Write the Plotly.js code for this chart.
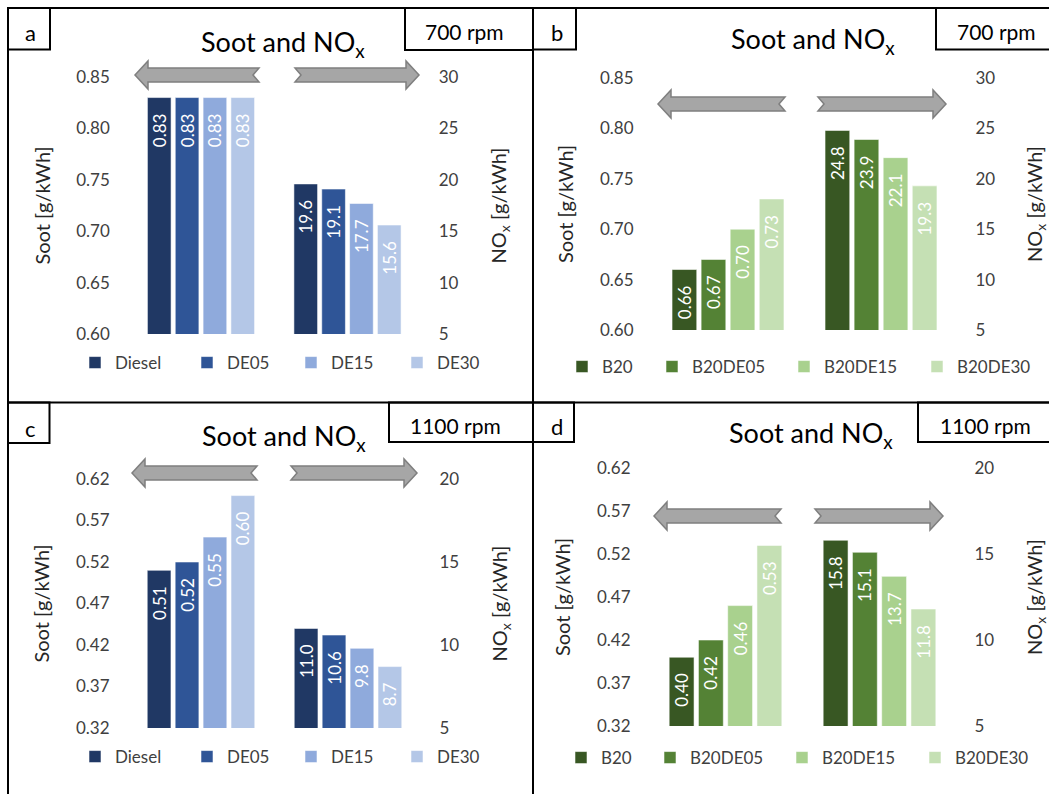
<!DOCTYPE html>
<html><head><meta charset="utf-8">
<script src="https://cdn.plot.ly/plotly-3.0.1.min.js"></script>
<style>html,body{margin:0;padding:0;background:#fff}#chart{width:1049px;height:794px}</style>
</head><body><div id="chart"></div>
<script>
// ---------------- data ----------------
const groups = ['Soot', 'NOx'];
const dieselSeries = ['Diesel', 'DE05', 'DE15', 'DE30'];
const biodieselSeries = ['B20', 'B20DE05', 'B20DE15', 'B20DE30'];
const blueColors = ['#203864', '#2f5597', '#8faadc', '#b4c7e7'];
const greenColors = ['#385723', '#548235', '#a9d18e', '#c5e0b4'];

// a: 700 rpm, diesel blends
const sootA = [0.83, 0.83, 0.83, 0.83];
const noxA = [19.6, 19.1, 17.7, 15.6];
// b: 700 rpm, B20 blends
const sootB = [0.66, 0.67, 0.70, 0.73];
const noxB = [24.8, 23.9, 22.1, 19.3];
// c: 1100 rpm, diesel blends
const sootC = [0.51, 0.52, 0.55, 0.60];
const noxC = [11.0, 10.6, 9.8, 8.7];
// d: 1100 rpm, B20 blends
const sootD = [0.40, 0.42, 0.46, 0.53];
const noxD = [15.8, 15.1, 13.7, 11.8];

const sootTicks700 = [0.60, 0.65, 0.70, 0.75, 0.80, 0.85];
const noxTicks700 = [5, 10, 15, 20, 25, 30];
const sootTicks1100 = [0.32, 0.37, 0.42, 0.47, 0.52, 0.57, 0.62];
const noxTicks1100 = [5, 10, 15, 20];

const panelLetters = ['a', 'b', 'c', 'd'];
const speedLabels = ['700 rpm', '700 rpm', '1100 rpm', '1100 rpm'];
const panelTitle = 'Soot and NO<sub>x</sub>';
const sootTitle = 'Soot [g/kWh]';
const noxTitle = 'NO<sub>x</sub> [g/kWh]';

// ---------------- layout helpers ----------------
const W = 1049, H = 794;
const px = v => v / W;
const py = v => 1 - v / H;
const FONT = 'Lato, "Open Sans", sans-serif';
const PAD = '\u00a0\u00a0\u00a0';

const panels = [
  {soot: sootA, nox: noxA, names: dieselSeries, colors: blueColors, sTicks: sootTicks700, nTicks: noxTicks700,
   x: [127.75, 420.75], y: [77, 334], xa: 'x', ys: 'y', yn: 'y2', legX: [96, 208, 312, 418], legY: 363},
  {soot: sootB, nox: noxB, names: biodieselSeries, colors: greenColors, sTicks: sootTicks700, nTicks: noxTicks700,
   x: [651.5, 957.5], y: [78, 330], xa: 'x2', ys: 'y3', yn: 'y4', legX: [583, 673, 805, 938], legY: 367},
  {soot: sootC, nox: noxC, names: dieselSeries, colors: blueColors, sTicks: sootTicks1100, nTicks: noxTicks1100,
   x: [127.5, 421.5], y: [479, 728], xa: 'x3', ys: 'y5', yn: 'y6', legX: [96, 208, 312, 418], legY: 757},
  {soot: sootD, nox: noxD, names: biodieselSeries, colors: greenColors, sTicks: sootTicks1100, nTicks: noxTicks1100,
   x: [648.5, 956.5], y: [468, 726], xa: 'x4', ys: 'y7', yn: 'y8', legX: [582, 671, 803, 936], legY: 758}
];

const traces = [];
const layout = {
  width: W, height: H,
  margin: {l: 0, r: 0, t: 0, b: 0},
  paper_bgcolor: '#ffffff', plot_bgcolor: 'rgba(0,0,0,0)',
  barmode: 'group', bargap: 0.24, bargroupgap: 0.15,
  font: {family: FONT, size: 17, color: '#404040'},
  showlegend: true,
  annotations: [], shapes: []
};

const axName = id => id.replace('x', 'xaxis').replace('y', 'yaxis');

panels.forEach((p, k) => {
  const labelFont = {family: FONT, size: 17, color: '#ffffff'};
  for (let i = 0; i < 4; i++) {
    const n = k * 4 + i + 1;
    const legendId = n === 1 ? 'legend' : 'legend' + n;
    traces.push({
      type: 'bar', x: [groups[0]], y: [p.soot[i]], name: p.names[i],
      xaxis: p.xa, yaxis: p.ys, legend: legendId, showlegend: true,
      marker: {color: p.colors[i], line: {color: 'rgba(255,255,255,0.55)', width: 1}},
      texttemplate: '%{y:.2f}' + PAD, textposition: 'inside', insidetextanchor: 'end',
      textangle: -90, constraintext: 'none', insidetextfont: labelFont, hoverinfo: 'name+y'
    });
    layout[legendId] = {
      orientation: 'h', x: px(p.legX[i] - 21), y: py(p.legY), xanchor: 'left', yanchor: 'middle',
      bgcolor: 'rgba(0,0,0,0)', font: {family: FONT, size: 17, color: '#404040'}
    };
  }
  for (let i = 0; i < 4; i++) {
    traces.push({
      type: 'bar', x: [groups[1]], y: [p.nox[i]], name: p.names[i],
      xaxis: p.xa, yaxis: p.yn, showlegend: false,
      marker: {color: p.colors[i], line: {color: 'rgba(255,255,255,0.55)', width: 1}},
      texttemplate: '%{y:.1f}' + PAD, textposition: 'inside', insidetextanchor: 'end',
      textangle: -90, constraintext: 'none', insidetextfont: labelFont, hoverinfo: 'name+y'
    });
  }
  const ydom = [py(p.y[1]), py(p.y[0])];
  const sRange = [p.sTicks[0], p.sTicks[p.sTicks.length - 1]];
  const nRange = [p.nTicks[0], p.nTicks[p.nTicks.length - 1]];
  layout[axName(p.xa)] = {
    domain: [px(p.x[0]), px(p.x[1])], anchor: p.ys, type: 'category',
    categoryorder: 'array', categoryarray: groups, range: [-0.5, 1.5],
    showticklabels: false, showline: false, showgrid: false, zeroline: false, ticks: '', fixedrange: true
  };
  layout[axName(p.ys)] = {
    domain: ydom, anchor: p.xa, side: 'left', range: sRange, tickvals: p.sTicks, tickformat: '.2f',
    showgrid: false, zeroline: false, showline: false, ticks: '', ticklabelstandoff: 17,
    tickfont: {family: FONT, size: 17, color: '#404040'},
    title: {text: sootTitle, font: {family: FONT, size: 20, color: '#262626'}, standoff: 20}
  };
  layout[axName(p.yn)] = {
    domain: ydom, anchor: p.xa, overlaying: p.ys, side: 'right', range: nRange, tickvals: p.nTicks,
    showgrid: false, zeroline: false, showline: false, ticks: '', ticklabelstandoff: 17,
    tickfont: {family: FONT, size: 17, color: '#404040'},
    title: {text: noxTitle, font: {family: FONT, size: 20, color: '#262626'}, standoff: 34}
  };
});

// ---------------- decorations: frames, boxes, arrows ----------------
const line = (x0, y0, x1, y1) => ({type: 'line', xref: 'paper', yref: 'paper',
  x0: px(x0), y0: py(y0), x1: px(x1), y1: py(y1), line: {color: '#000', width: 2}});
const rect = (x0, y0, x1, y1) => ({type: 'rect', xref: 'paper', yref: 'paper',
  x0: px(x0), y0: py(y0), x1: px(x1), y1: py(y1), line: {color: '#000', width: 2}, fillcolor: 'rgba(0,0,0,0)'});
layout.shapes.push(
  line(8, 8, 1060, 8), line(8, 8, 8, 800), line(533, 8, 533, 800), line(8, 402.5, 1060, 402.5),
  rect(8, 8, 50, 49.5), rect(405, 8, 533, 50),
  rect(533, 8, 576, 49.5), rect(936, 8, 1070, 49.5),
  rect(8, 402.5, 49.5, 443), rect(389, 402.5, 533, 442),
  rect(533, 402.5, 574, 442), rect(918, 402.5, 1070, 442)
);

function arrowPath(tip, tail, c) {
  const hl = 13, hh = 14, sh = 7, notch = 6;
  const dir = tail > tip ? 1 : -1;
  const pts = [[tip, c], [tip + dir * hl, c - hh], [tip + dir * hl, c - sh], [tail, c - sh],
               [tail - dir * notch, c], [tail, c + sh], [tip + dir * hl, c + sh], [tip + dir * hl, c + hh]];
  return 'M' + pts.map(q => px(q[0]).toFixed(5) + ',' + py(q[1]).toFixed(5)).join('L') + 'Z';
}
const arrows = [[135, 259, 75], [419, 295, 75], [658, 785, 104], [946, 818, 104],
                [132, 257, 473], [417, 291, 473], [654, 781, 516], [943, 815, 516]];
arrows.forEach(a => layout.shapes.push({type: 'path', xref: 'paper', yref: 'paper',
  path: arrowPath(a[0], a[1], a[2]), fillcolor: '#a6a6a6', line: {color: '#7f7f7f', width: 1.5}}));

// ---------------- annotations: titles, letters, speeds ----------------
const ann = (text, x, y, size, color) => ({text, x: px(x), y: py(y), xref: 'paper', yref: 'paper',
  showarrow: false, xanchor: 'center', yanchor: 'middle', font: {family: FONT, size, color}});
const titlePos = [[283, 43], [813, 40], [284, 437], [811, 434]];
const letterPos = [[30, 33], [557, 33], [30, 428], [557, 426]];
const speedPos = [[464, 31], [996, 31], [455, 425], [985, 425]];
for (let k = 0; k < 4; k++) {
  layout.annotations.push(ann(panelTitle, titlePos[k][0], titlePos[k][1], 27, '#000'));
  layout.annotations.push(ann(panelLetters[k], letterPos[k][0], letterPos[k][1], 22, '#000'));
  layout.annotations.push(ann(speedLabels[k], speedPos[k][0], speedPos[k][1], 21, '#000'));
}

Plotly.newPlot('chart', traces, layout, {displayModeBar: false, staticPlot: true});
</script>
</body></html>
